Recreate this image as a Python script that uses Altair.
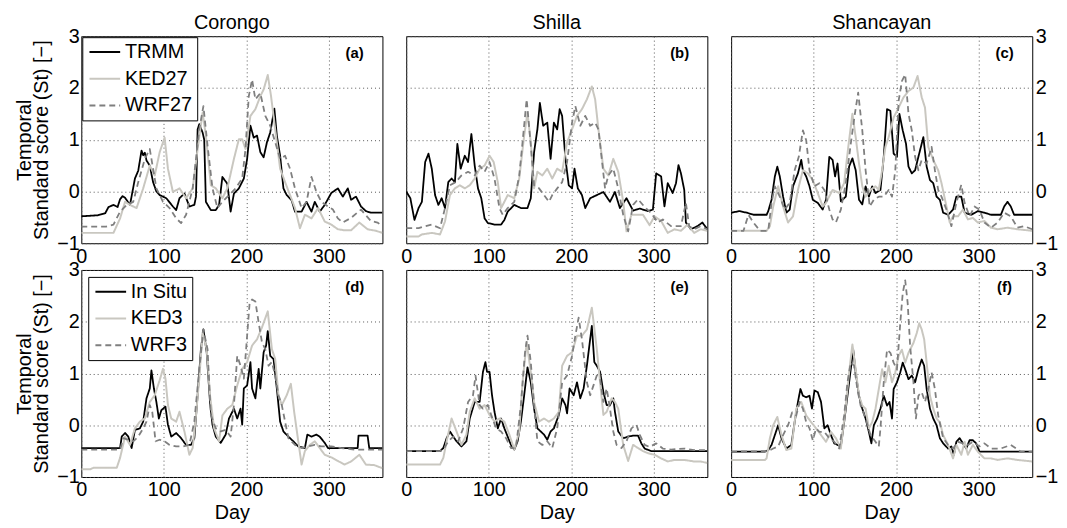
import altair as alt
import pandas as pd

# ---------------- data ----------------
SITES = ["Corongo", "Shilla", "Shancayan"]
TOP_SERIES = ["TRMM", "KED27", "WRF27"]
BOTTOM_SERIES = ["In Situ", "KED3", "WRF3"]
TAGS = ["(a)", "(b)", "(c)", "(d)", "(e)", "(f)"]
DAY_TICKS = [0, 100, 200, 300]
Y_TICKS = [-1, 0, 1, 2, 3]
Y_TITLE = ["Temporal", "Standard score (St) [\u2212]"]

A_OBS = [(0,-0.48),(10,-0.47),(20,-0.46),(29,-0.42),(33,-0.3),(39,-0.26),(44,-0.3),(47,-0.15),(50,-0.09),(53,-0.12),(59,-0.26),(65,0.25),(69,0.4),(73,0.79),(75,0.7),(77,0.75),(79,0.6),(83,0.5),(87,0.18),(91,0.0),(95,-0.07),(103,-0.13),(111,-0.29),(115,-0.36),(119,-0.13),(125,-0.04),(131,-0.29),(137,-0.26),(139,-0.1),(141,1.2),(143,1.3),(147,1.14),(149,1.0),(151,-0.2),(157,-0.36),(163,-0.36),(167,-0.26),(171,0.28),(177,0.15),(181,-0.39),(185,-0.04),(191,0.06),(197,0.25),(201,0.63),(205,1.27),(209,1.04),(213,1.08),(217,0.76),(221,0.66),(225,0.95),(229,1.14),(234,1.6),(237,1.08),(241,0.69),(245,0.06),(249,-0.07),(255,-0.17),(259,-0.39),(267,-0.39),(273,-0.2),(279,-0.39),(283,-0.2),(289,-0.39),(295,-0.26),(303,-0.03),(311,0.06),(317,-0.1),(323,0.06),(327,-0.16),(333,-0.1),(339,-0.29),(345,-0.38),(351,-0.41),(365,-0.41)]
A_KED = [(0,-0.8),(20,-0.8),(39,-0.8),(47,-0.52),(53,-0.2),(59,-0.26),(67,-0.32),(75,0.06),(83,0.5),(89,0.31),(95,0.76),(101,1.04),(105,0.44),(111,-0.01),(119,0.06),(127,-0.13),(135,0.06),(141,0.82),(147,1.52),(151,1.08),(157,0.12),(163,0.06),(171,-0.13),(177,0.06),(185,0.63),(191,1.01),(195,1.01),(199,0.82),(205,1.46),(211,1.59),(217,1.84),(221,1.97),(226,2.25),(230,1.84),(235,1.2),(241,0.44),(247,0.18),(253,-0.07),(259,-0.32),(265,-0.71),(271,-0.45),(279,-0.52),(287,-0.32),(295,-0.58),(303,-0.64),(311,-0.73),(319,-0.75),(327,-0.75),(337,-0.6),(347,-0.73),(357,-0.76),(365,-0.8)]
A_WRF = [(0,-0.68),(30,-0.68),(39,-0.64),(47,-0.39),(55,-0.26),(63,-0.2),(69,0.18),(77,0.63),(83,0.82),(87,0.44),(91,0.06),(99,-0.2),(107,-0.32),(115,-0.52),(121,-0.61),(127,-0.45),(135,0.06),(143,1.2),(148,1.65),(153,0.89),(159,0.06),(165,-0.32),(171,-0.2),(179,-0.07),(187,0.06),(195,0.25),(199,0.82),(203,1.84),(207,2.16),(211,1.78),(217,1.9),(223,1.46),(229,1.27),(235,0.95),(241,0.63),(247,0.69),(253,0.44),(259,0.06),(267,-0.32),(273,-0.2),(279,0.28),(285,-0.01),(291,-0.2),(299,-0.29),(305,-0.35),(311,-0.52),(317,-0.6),(327,-0.51),(339,-0.35),(351,-0.57),(359,-0.6),(365,-0.67)]

B_OBS = [(0,0.0),(5,-0.13),(10,-0.55),(15,-0.32),(19,-0.2),(23,0.57),(27,0.73),(31,0.44),(35,-0.07),(39,-0.26),(43,-0.13),(47,-0.32),(51,0.18),(55,0.25),(59,0.18),(62,0.92),(66,0.44),(71,0.69),(75,0.57),(79,1.11),(83,0.5),(87,0.06),(91,-0.13),(95,-0.52),(99,-0.61),(107,-0.64),(115,-0.64),(119,-0.55),(123,-0.39),(131,-0.26),(139,-0.32),(147,-0.32),(151,-0.13),(155,0.76),(159,1.2),(162,1.71),(166,1.27),(171,1.33),(175,0.63),(179,1.33),(183,1.2),(186,1.59),(189,1.46),(193,0.63),(197,0.12),(201,0.06),(204,0.44),(208,0.06),(213,-0.07),(217,-0.32),(223,-0.13),(231,-0.07),(239,-0.01),(247,-0.2),(253,-0.01),(259,-0.32),(267,-0.13),(275,-0.37),(283,-0.33),(293,-0.38),(299,-0.35),(303,0.35),(309,0.29),(313,-0.29),(317,0.16),(323,-0.03),(327,0.16),(330,0.51),(333,0.35),(337,0.03),(339,-0.6),(345,-0.73),(353,-0.67),(359,-0.6),(365,-0.73)]
B_KED = [(0,-0.87),(15,-0.87),(19,-0.83),(31,-0.8),(41,-0.83),(47,-0.58),(53,-0.07),(59,0.06),(65,0.12),(71,0.06),(77,0.12),(83,0.25),(89,0.44),(95,0.5),(101,0.69),(106,0.57),(111,0.18),(115,-0.32),(119,-0.2),(123,-0.07),(131,-0.13),(137,0.25),(143,1.08),(147,1.52),(151,0.95),(155,0.06),(159,0.38),(165,0.31),(171,0.44),(177,0.25),(183,0.44),(189,0.38),(195,0.95),(201,1.2),(207,1.46),(213,1.59),(219,1.78),(225,2.03),(229,1.78),(233,1.2),(239,0.44),(245,0.31),(251,0.63),(257,0.38),(263,-0.2),(267,-0.77),(273,-0.45),(279,-0.45),(287,-0.45),(295,-0.65),(301,-0.48),(309,-0.57),(317,-0.8),(325,-0.73),(333,-0.76),(341,-0.64),(349,-0.8),(357,-0.73),(365,-0.76)]
B_WRF = [(0,-0.71),(15,-0.71),(21,-0.68),(31,-0.64),(41,-0.71),(47,-0.32),(53,0.12),(60,0.18),(67,0.31),(75,0.38),(83,0.31),(89,0.5),(95,0.38),(101,0.57),(107,0.25),(113,-0.32),(117,-0.45),(123,-0.32),(131,-0.2),(137,0.31),(141,0.95),(146,1.78),(151,0.89),(155,0.12),(161,0.06),(167,-0.07),(173,-0.2),(177,-0.07),(183,0.06),(189,0.18),(195,0.57),(201,1.33),(205,1.65),(211,1.27),(217,1.46),(223,1.27),(229,1.33),(233,1.2),(237,0.63),(241,0.06),(245,0.31),(251,0.44),(257,0.06),(263,-0.45),(269,-0.77),(275,-0.26),(281,-0.15),(289,-0.3),(297,-0.42),(305,-0.6),(311,-0.54),(321,-0.67),(333,-0.67),(339,-0.22),(343,-0.67),(349,-0.73),(357,-0.67),(365,-0.73)]

C_OBS = [(0,-0.41),(10,-0.38),(19,-0.41),(27,-0.45),(43,-0.45),(45,-0.38),(49,-0.16),(53,0.29),(56,0.48),(59,0.29),(63,-0.1),(67,-0.41),(71,-0.35),(75,0.1),(81,0.35),(85,0.61),(87,0.41),(91,0.29),(95,0.1),(99,-0.16),(105,-0.22),(111,-0.35),(115,-0.16),(119,0.67),(123,0.61),(126,0.29),(129,0.54),(133,-0.19),(139,-0.1),(143,0.48),(147,0.64),(151,0.41),(155,-0.16),(159,-0.25),(163,0.1),(167,-0.1),(171,0.1),(175,-0.03),(181,0.03),(185,0.67),(189,1.59),(193,1.56),(197,0.73),(201,0.67),(204,1.5),(208,1.18),(212,0.92),(215,0.48),(219,0.35),(223,0.41),(227,0.67),(233,1.05),(237,0.48),(241,0.22),(245,0.16),(249,-0.1),(253,-0.16),(257,-0.41),(263,-0.45),(269,-0.35),(273,-0.1),(279,-0.1),(283,-0.41),(291,-0.45),(299,-0.38),(307,-0.41),(315,-0.45),(327,-0.45),(331,-0.29),(335,-0.2),(339,-0.29),(343,-0.45),(365,-0.45)]
C_KED = [(0,-0.76),(43,-0.76),(47,-0.67),(51,-0.29),(57,0.1),(63,-0.29),(69,-0.6),(75,-0.48),(81,0.03),(87,0.41),(93,0.35),(99,0.22),(105,-0.03),(111,-0.29),(115,-0.22),(123,0.03),(131,-0.03),(137,0.16),(142,0.86),(147,1.5),(151,1.05),(155,0.54),(159,0.1),(163,-0.1),(169,0.03),(175,0.1),(179,0.03),(183,0.41),(187,0.86),(191,1.05),(197,1.43),(203,1.62),(209,1.82),(215,1.94),(221,2.01),(226,2.23),(231,1.82),(235,1.62),(239,0.86),(245,0.61),(251,0.41),(255,0.16),(261,-0.29),(265,-0.6),(269,-0.48),(275,-0.48),(281,-0.35),(287,-0.54),(293,-0.51),(299,-0.6),(307,-0.57),(315,-0.7),(323,-0.73),(335,-0.7),(347,-0.73),(365,-0.76)]
C_WRF = [(0,-0.76),(15,-0.76),(21,-0.45),(27,-0.6),(35,-0.76),(45,-0.76),(49,-0.22),(53,0.1),(59,-0.1),(65,-0.35),(71,-0.22),(77,0.41),(82,0.67),(87,1.18),(91,0.99),(95,0.41),(101,0.1),(107,0.16),(113,0.03),(119,-0.35),(123,-0.54),(127,-0.6),(133,-0.35),(139,0.16),(145,0.92),(150,1.5),(154,1.91),(159,1.18),(163,0.41),(168,-0.29),(173,-0.16),(179,-0.1),(185,-0.1),(191,0.03),(195,-0.1),(199,0.41),(203,1.75),(207,2.13),(211,2.26),(215,1.5),(219,1.18),(223,0.67),(227,0.41),(231,0.61),(237,0.54),(243,0.86),(247,0.41),(251,0.03),(255,-0.1),(261,-0.35),(267,-0.67),(273,-0.22),(279,0.13),(283,-0.22),(289,-0.48),(295,-0.29),(301,-0.35),(307,-0.6),(315,-0.7),(323,-0.6),(331,-0.41),(339,-0.48),(347,-0.7),(355,-0.67),(365,-0.73)]

D_OBS = [(0,-0.44),(47,-0.44),(49,-0.22),(53,-0.15),(57,-0.22),(61,-0.44),(65,-0.09),(71,-0.06),(75,0.07),(79,0.52),(83,0.71),(85,1.06),(88,0.71),(91,0.45),(94,0.13),(97,0.29),(102,0.36),(105,0.01),(109,-0.22),(115,-0.15),(121,-0.25),(127,-0.38),(133,-0.38),(137,-0.25),(141,0.58),(145,1.47),(148,1.85),(152,1.41),(156,0.45),(159,0.01),(163,-0.22),(169,-0.34),(175,-0.18),(179,0.13),(185,0.32),(189,0.13),(193,0.32),(195,0.01),(197,0.71),(201,0.77),(205,1.22),(207,0.71),(211,0.52),(215,1.09),(217,0.71),(221,1.41),(224,1.54),(226,1.82),(229,1.34),(233,1.28),(237,0.71),(241,0.07),(245,-0.12),(251,-0.22),(257,-0.31),(263,-0.41),(271,-0.44),(274,-0.18),(279,-0.22),(285,-0.18),(289,-0.22),(295,-0.34),(299,-0.44),(335,-0.44),(336,-0.2),(347,-0.2),(349,-0.44),(365,-0.44)]
D_KED = [(0,-0.85),(11,-0.85),(15,-0.82),(43,-0.82),(47,-0.63),(53,-0.22),(59,-0.38),(65,-0.06),(71,0.07),(77,0.13),(83,0.45),(89,0.58),(95,0.87),(99,1.09),(102,0.9),(105,0.39),(109,0.13),(115,0.07),(119,0.26),(125,-0.12),(131,-0.57),(135,-0.44),(139,0.19),(143,0.9),(147,1.79),(152,1.47),(156,0.58),(161,-0.06),(167,-0.31),(171,0.19),(177,0.32),(183,0.39),(189,0.77),(195,1.09),(201,1.22),(207,1.54),(213,1.66),(219,1.89),(226,2.2),(231,1.47),(235,1.28),(239,0.58),(243,0.39),(249,0.58),(254,0.8),(258,0.26),(263,-0.31),(267,-0.76),(271,-0.5),(277,-0.38),(283,-0.31),(289,-0.44),(295,-0.57),(303,-0.62),(311,-0.69),(319,-0.76),(327,-0.7),(337,-0.57),(345,-0.76),(355,-0.77),(365,-0.83)]
D_WRF = [(0,-0.47),(47,-0.47),(51,-0.25),(57,-0.28),(63,-0.31),(69,-0.22),(75,-0.06),(79,0.07),(83,0.39),(86,0.26),(90,-0.31),(95,-0.28),(101,-0.31),(107,-0.38),(115,-0.41),(123,-0.41),(131,-0.38),(137,0.07),(143,1.09),(148,1.85),(153,1.47),(157,0.2),(163,-0.06),(169,-0.12),(175,-0.09),(181,-0.22),(185,0.39),(189,1.34),(193,1.15),(197,0.9),(201,1.73),(204,2.36),(207,2.43),(211,2.39),(215,1.98),(219,1.6),(223,1.47),(227,1.15),(231,1.22),(235,0.96),(239,0.58),(243,0.39),(247,0.07),(251,-0.25),(259,-0.38),(267,-0.44),(275,-0.41),(283,-0.38),(291,-0.41),(303,-0.41),(315,-0.44),(331,-0.47),(365,-0.47)]

E_OBS = [(0,-0.5),(41,-0.5),(45,-0.44),(49,-0.25),(53,-0.12),(57,-0.22),(61,-0.31),(67,-0.41),(73,-0.31),(77,0.13),(83,0.45),(89,0.45),(93,1.03),(96,1.22),(98,1.03),(101,1.03),(104,0.58),(107,0.26),(111,-0.06),(115,0.13),(119,-0.06),(123,-0.22),(127,-0.38),(131,-0.47),(135,-0.31),(139,0.07),(143,0.58),(147,1.12),(151,0.83),(155,0.32),(159,-0.06),(163,-0.12),(167,-0.18),(171,-0.28),(175,-0.12),(179,-0.06),(185,0.2),(189,0.52),(193,0.39),(195,0.23),(198,0.71),(203,0.58),(207,0.83),(211,0.52),(215,0.71),(219,1.15),(222,1.54),(225,1.92),(228,1.22),(231,1.15),(235,1.03),(239,0.64),(243,0.39),(247,0.39),(251,0.52),(253,0.26),(257,-0.12),(263,-0.25),(269,-0.22),(275,-0.2),(281,-0.2),(285,-0.35),(289,-0.45),(297,-0.5),(365,-0.5)]
E_KED = [(0,-0.76),(41,-0.76),(45,-0.63),(49,-0.31),(55,0.13),(61,-0.12),(67,-0.38),(73,-0.18),(77,0.26),(83,0.52),(89,0.32),(95,0.39),(101,0.2),(107,0.07),(113,0.13),(119,0.07),(125,-0.18),(131,-0.47),(137,-0.12),(141,0.83),(146,1.6),(151,1.03),(155,0.45),(161,0.07),(167,0.13),(173,0.07),(179,0.13),(185,0.26),(189,1.15),(195,1.34),(201,1.41),(207,1.73),(213,1.73),(219,1.85),(225,2.27),(231,1.47),(235,0.83),(239,0.2),(243,0.26),(249,0.52),(253,0.45),(257,0.32),(263,-0.38),(269,-0.69),(275,-0.38),(281,-0.44),(287,-0.5),(293,-0.54),(301,-0.57),(309,-0.64),(317,-0.7),(325,-0.67),(337,-0.67),(349,-0.7),(357,-0.7),(365,-0.73)]
E_WRF = [(0,-0.5),(41,-0.5),(45,-0.47),(51,-0.31),(57,-0.22),(63,-0.31),(69,-0.06),(75,0.45),(81,0.58),(84,0.96),(89,0.39),(93,0.32),(99,0.39),(103,0.2),(109,-0.06),(115,-0.12),(121,-0.25),(127,-0.44),(133,-0.44),(139,0.39),(144,1.41),(147,1.73),(151,1.22),(155,0.39),(159,-0.31),(165,-0.38),(171,-0.31),(177,-0.44),(183,-0.06),(189,0.83),(195,0.96),(201,1.34),(205,1.73),(209,2.08),(213,1.66),(219,0.83),(223,0.58),(227,0.77),(231,0.96),(235,0.9),(239,0.45),(243,0.71),(247,0.32),(251,-0.12),(255,-0.38),(261,-0.44),(267,-0.31),(273,-0.06),(279,0.01),(283,-0.18),(289,-0.38),(295,-0.42),(303,-0.35),(311,-0.45),(321,-0.47),(337,-0.45),(349,-0.48),(365,-0.48)]

F_OBS = [(0,-0.51),(41,-0.51),(45,-0.48),(49,-0.38),(53,-0.19),(57,0.0),(61,-0.25),(67,-0.45),(73,-0.38),(77,0.06),(81,0.45),(84,0.7),(87,0.57),(91,0.54),(95,0.57),(98,0.32),(101,0.67),(105,0.64),(109,0.45),(113,-0.06),(117,0.0),(121,-0.19),(125,-0.35),(129,-0.38),(133,-0.41),(137,0.06),(141,0.57),(145,1.08),(148,1.46),(151,1.02),(155,0.57),(159,0.32),(163,0.13),(167,-0.13),(170,-0.35),(173,0.0),(177,0.13),(181,0.32),(185,0.57),(189,0.38),(192,0.45),(195,0.13),(197,0.7),(201,0.83),(205,1.02),(208,1.21),(211,1.08),(215,0.89),(219,0.96),(223,0.83),(227,1.08),(231,1.27),(234,1.15),(237,0.7),(241,0.32),(245,0.13),(249,0.0),(253,-0.25),(257,-0.35),(263,-0.45),(267,-0.41),(270,-0.57),(273,-0.32),(277,-0.25),(281,-0.35),(285,-0.45),(289,-0.29),(293,-0.29),(297,-0.35),(301,-0.51),(365,-0.51)]
F_KED = [(0,-0.67),(41,-0.67),(43,-0.64),(47,-0.25),(51,0.0),(56,0.16),(61,-0.19),(67,-0.48),(73,-0.45),(79,0.32),(85,0.45),(91,0.19),(97,0.06),(103,-0.06),(109,-0.19),(115,-0.32),(121,-0.13),(127,-0.25),(133,-0.45),(139,0.38),(143,1.02),(147,1.56),(151,1.08),(155,0.57),(159,0.38),(163,0.32),(167,-0.06),(171,0.06),(175,0.32),(179,0.7),(183,1.08),(187,0.83),(191,1.15),(195,0.83),(199,1.02),(203,1.34),(207,1.46),(211,1.21),(215,1.4),(221,1.59),(225,1.78),(228,1.97),(231,1.85),(234,1.66),(237,1.21),(241,0.57),(245,0.32),(249,0.13),(253,0.06),(257,-0.19),(263,-0.38),(269,-0.64),(273,-0.38),(279,-0.57),(283,-0.32),(287,-0.57),(293,-0.38),(299,-0.51),(307,-0.64),(315,-0.64),(323,-0.67),(335,-0.64),(347,-0.67),(365,-0.7)]
F_WRF = [(0,-0.51),(45,-0.5),(51,-0.45),(57,-0.41),(63,-0.19),(69,0.0),(74,0.25),(79,0.19),(83,0.45),(87,0.32),(91,0.06),(95,-0.06),(99,-0.29),(103,-0.06),(107,-0.13),(113,-0.13),(119,-0.25),(125,-0.32),(131,-0.45),(137,0.19),(141,0.83),(145,1.21),(149,1.15),(153,0.7),(157,0.38),(163,0.13),(169,-0.19),(175,-0.32),(179,-0.41),(181,-0.06),(185,0.83),(189,1.46),(193,1.4),(197,1.21),(201,1.08),(205,1.97),(208,2.55),(211,2.8),(214,2.36),(217,1.53),(221,0.83),(224,0.13),(227,0.57),(231,0.64),(235,0.45),(239,0.7),(243,1.02),(247,0.7),(251,0.19),(257,-0.25),(263,-0.38),(269,-0.45),(275,-0.32),(281,-0.35),(287,-0.38),(293,-0.32),(301,-0.41),(307,-0.35),(315,-0.45),(327,-0.45),(339,-0.38),(351,-0.51),(365,-0.51)]

# ---------------- styling ----------------
FONT = "Liberation Sans"
W, H = 304, 209
COLORS = ["#000000", "#c9c7c0", "#7f7f7f"]
DASHES = [[1, 0], [1, 0], [6, 4]]
WIDTHS = [1.8, 2.0, 1.8]
LEGEND_LINE = "M-1,0H3"   # wide stroke sample starting at the symbol slot edge


def panel(names, series, tag, title=None, side=None, legend_offset=None, bottom=False):
    rows = []
    for name, pts in zip(names, series):
        for d, v in pts:
            rows.append({"day": d, "value": v, "series": name})
    df = pd.DataFrame(rows)

    x_axis = alt.Axis(values=DAY_TICKS, grid=True, ticks=False, domain=False,
                      labelFlush=False, labelPadding=3,
                      title="Day" if bottom else None, titlePadding=3)
    if side == "left":
        y_axis = alt.Axis(values=Y_TICKS, grid=True, ticks=False, domain=False,
                          labelFlush=False, labelPadding=2, title=Y_TITLE,
                          titlePadding=5, titleLineHeight=17)
    elif side == "right":
        y_axis = alt.Axis(values=Y_TICKS, grid=True, ticks=False, domain=False,
                          orient="right", labelFlush=False, labelPadding=3,
                          title=None)
    else:
        y_axis = alt.Axis(values=Y_TICKS, grid=True, ticks=False, domain=False,
                          labels=False, title=None)

    if legend_offset is not None:
        leg = alt.Legend(title=None, orient="top-left", offset=legend_offset,
                         strokeColor="black", fillColor="white", padding=5,
                         cornerRadius=0, symbolType=LEGEND_LINE, symbolSize=240,
                         symbolStrokeWidth=2, labelFontSize=20, labelFont=FONT,
                         labelOffset=18, rowPadding=7, labelColor="black")
    else:
        leg = None

    base = alt.Chart(df).encode(
        x=alt.X("day:Q", scale=alt.Scale(domain=[0, 365], nice=False, zero=False), axis=x_axis),
        y=alt.Y("value:Q", scale=alt.Scale(domain=[-1, 3], nice=False, zero=False), axis=y_axis),
        color=alt.Color("series:N", scale=alt.Scale(domain=names, range=COLORS), legend=leg),
        strokeDash=alt.StrokeDash("series:N", scale=alt.Scale(domain=names, range=DASHES), legend=leg),
    )
    layers = []
    for i, name in enumerate(names):
        layers.append(
            base.transform_filter(alt.datum.series == name)
            .mark_line(strokeWidth=WIDTHS[i], strokeJoin="round", clip=True)
        )
    layers.append(
        alt.Chart(pd.DataFrame({"tag": [tag]})).mark_text(
            font=FONT, fontSize=15, fontWeight="bold", align="center",
            baseline="middle", color="black"
        ).encode(text="tag:N", x=alt.value(W - 28), y=alt.value(17))
    )
    if title:
        layers.append(
            alt.Chart(pd.DataFrame({"site": [title]})).mark_text(
                font=FONT, fontSize=20, align="center", baseline="middle",
                color="black"
            ).encode(text="site:N", x=alt.value(W / 2), y=alt.value(-13))
        )
    return alt.layer(*layers).properties(width=W, height=H)


pa = panel(TOP_SERIES, [A_OBS, A_KED, A_WRF], TAGS[0], SITES[0], "left", 1)
pb = panel(TOP_SERIES, [B_OBS, B_KED, B_WRF], TAGS[1], SITES[1])
pc = panel(TOP_SERIES, [C_OBS, C_KED, C_WRF], TAGS[2], SITES[2], "right")
pd_ = panel(BOTTOM_SERIES, [D_OBS, D_KED, D_WRF], TAGS[3], None, "left", 7, True)
pe = panel(BOTTOM_SERIES, [E_OBS, E_KED, E_WRF], TAGS[4], None, None, None, True)
pf = panel(BOTTOM_SERIES, [F_OBS, F_KED, F_WRF], TAGS[5], None, "right", None, True)

chart = alt.concat(pa, pb, pc, pd_, pe, pf, columns=3,
                   spacing={"row": 27, "column": 24}, bounds="flush").resolve_scale(
    color="independent", strokeDash="independent", x="independent", y="independent"
).properties(
    padding={"left": 6, "top": 2, "right": 0, "bottom": 0},
    background="white",
).configure_view(
    stroke="black", strokeWidth=1
).configure_axis(
    gridColor="#555555", gridDash=[1, 3], gridWidth=1, gridOpacity=1,
    labelFont=FONT, labelFontSize=20, labelColor="black",
    titleFont=FONT, titleFontSize=20, titleFontWeight="normal", titleColor="black",
)

chart.save("out.html", embed_options={"renderer": "svg", "actions": False})
